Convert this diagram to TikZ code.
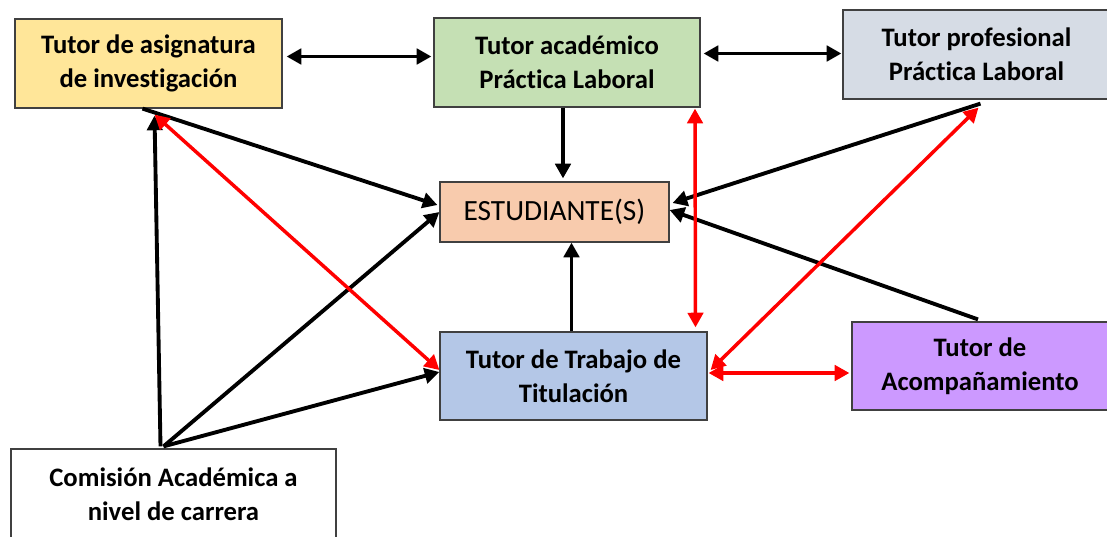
\documentclass[tikz,border=0pt]{standalone}
\usepackage{fontspec}
\setmainfont{Carlito}[Ligatures=NoCommon]
\usepackage{tikz}
\usetikzlibrary{arrows.meta,calc}
\definecolor{asigyellow}{HTML}{FFE699}
\definecolor{acadgreen}{HTML}{C5E0B4}
\definecolor{profgrey}{HTML}{D6DCE5}
\definecolor{estpeach}{HTML}{F8CBAD}
\definecolor{titblue}{HTML}{B4C7E7}
\definecolor{acompurple}{HTML}{CC99FF}
\tikzset{
    rolenode/.style={align=center,inner sep=0pt,text centered,draw=black!75,line width=0.9pt,font=\bfseries\fontsize{20}{25.5}\selectfont},
    asignode/.style={rolenode,fill=asigyellow,minimum width=200.25pt,minimum height=66.75pt},
    acadnode/.style={rolenode,fill=acadgreen,minimum width=199.5pt,minimum height=66.75pt},
    profnode/.style={rolenode,fill=profgrey,minimum width=200.25pt,minimum height=66.75pt},
    estnode/.style={rolenode,fill=estpeach,minimum width=171.75pt,minimum height=45pt,font=\fontsize{22}{26}\selectfont},
    titnode/.style={rolenode,fill=titblue,minimum width=200.25pt,minimum height=66pt},
    acomnode/.style={rolenode,fill=acompurple,minimum width=192pt,minimum height=66pt},
    comnode/.style={rolenode,fill=white,minimum width=243.75pt,minimum height=68.25pt},
    blackline/.style={color=black,draw,line width=2.9pt},
    redline/.style={color=red,draw,line width=2.6pt}
}

\begin{document}
\begin{tikzpicture}[x=0.75pt,y=-0.75pt,>={Triangle[length=11pt,width=11.5pt]}]
				\useasboundingbox (0,0) rectangle (1107,536);

				\node[asignode] (ASIG) at (148.5,63.5) {Tutor de asignatura\\de investigación};
				\node[acadnode] (ACAD) at (567,62.5) {Tutor académico\\Práctica Laboral};
				\node[profnode] (PROF) at (976.5,54.5) {Tutor profesional\\Práctica Laboral};
				\node[estnode] (EST) at (554.5,212) {ESTUDIANTE(S)};
				\node[titnode] (TIT) at (573.5,376) {Tutor de Trabajo de\\Titulación};
				\node[acomnode] (ACOM) at (980,366) {Tutor de\\Acompañamiento};
				\node[comnode] (COM) at (173.5,494.5) {Comisión Académica a\\nivel de carrera};

				% black connectors
				\path[blackline]
				($(ASIG.east)+(4,-7)$) edge[<->] ($(ACAD.west)+(-2,-6)$)
				($(ACAD.east)+(3,-9)$) edge[<->] ($(PROF.west)+(-1,-1)$)
				($(ACAD.south)+(-4,0)$) edge[->] ($(EST.north)+(8.5,-3)$)
				($(ASIG.south)+(-6,0)$) edge[->] ($(EST.west)+(-2,-7)$)
				($(COM.north)+(-13,-2)$) edge[->] ($(ASIG.south)+(6,7)$)
				($(COM.north)+(-10,-2)$) edge[->] ($(EST.west)+(0,0)$)
				($(COM.north)+(-10,-2)$) edge[->] ($(TIT.west)+(0,-4)$)
				($(TIT.north)+(-2,0)$) edge[->] ($(EST.south)+(17,0)$)
				($(PROF.south)+(4,4)$) edge[->] ($(EST.east)+(3,-9)$)
				($(ACOM.north)+(-2,-2)$) edge[->] ($(EST.east)+(0,-2)$);

				% red connectors
				\path[redline]
				($(ASIG.south)+(6,6)$) edge[<->] ($(TIT.west)+(0,-6)$)
				($(ACAD.south)+(128,1)$) edge[<->] ($(TIT.north)+(122,-4)$)
				($(PROF.south)+(2,8)$) edge[<->] ($(TIT.east)+(3,-6)$)
				($(TIT.east)+(1,-3)$) edge[<->] ($(ACOM.west)+(-2,7)$);
			\end{tikzpicture}
\end{document}
